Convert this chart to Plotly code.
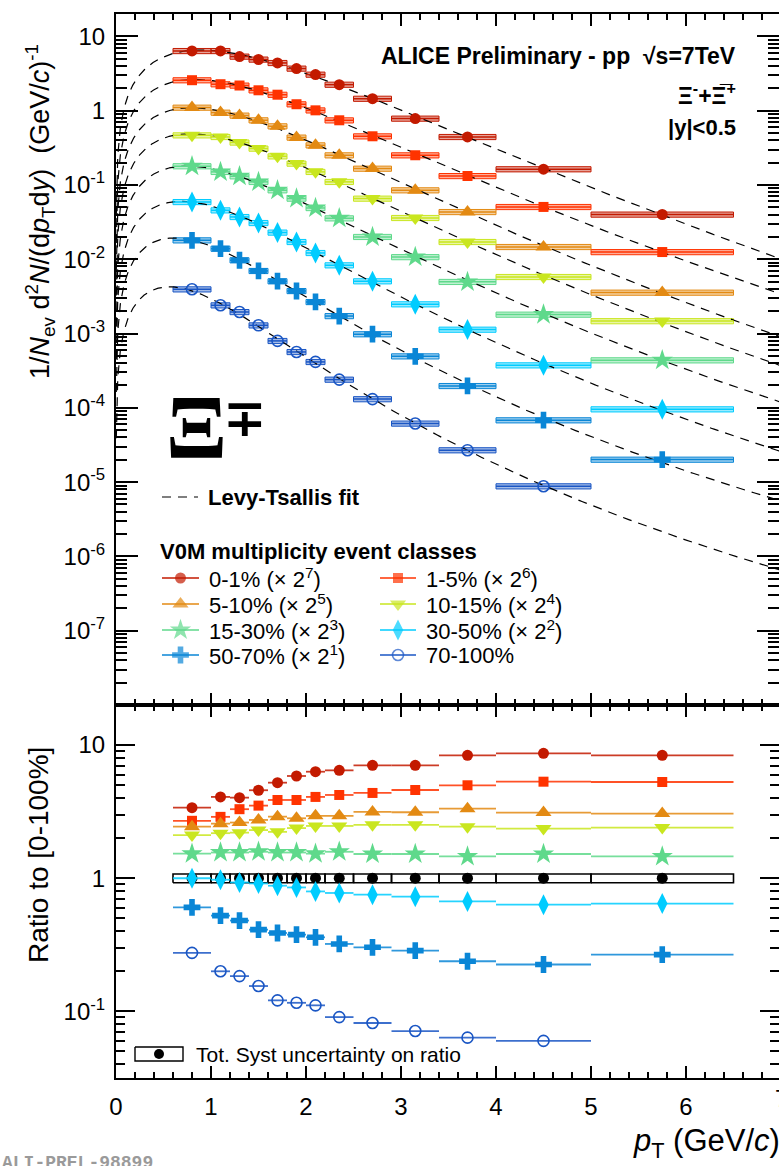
import numpy as np
import plotly.graph_objects as go

# ---------------- data ----------------
PT_LO = [0.6, 1.0, 1.2, 1.4, 1.6, 1.8, 2.0, 2.2, 2.5, 2.9, 3.4, 4.0, 5.0]
PT_HI = [1.0, 1.2, 1.4, 1.6, 1.8, 2.0, 2.2, 2.5, 2.9, 3.4, 4.0, 5.0, 6.5]

CLASSES = ["0-1%", "1-5%", "5-10%", "10-15%", "15-30%", "30-50%", "50-70%", "70-100%"]
SCALE_POW = [7, 6, 5, 4, 3, 2, 1, 0]

# 1/Nev d2N/(dpT dy), already multiplied by 2^k
SPEC_0_1 = [6.36, 6.36, 5.35, 4.88, 4.39, 3.69, 3.06, 2.24, 1.45, 0.783, 0.443, 0.163, 0.040]
SPEC_1_5 = [2.57, 2.27, 2.18, 1.88, 1.64, 1.22, 1.01, 0.742, 0.452, 0.251, 0.132, 0.0506, 0.0125]
SPEC_5_10 = [1.10, 0.942, 0.86, 0.743, 0.617, 0.435, 0.342, 0.251, 0.166, 0.0849, 0.0433, 0.01465, 0.00356]
SPEC_10_15 = [0.466, 0.443, 0.373, 0.309, 0.243, 0.194, 0.150, 0.110, 0.0656, 0.036, 0.0171, 0.00578, 0.00147]
SPEC_15_30 = [0.179, 0.150, 0.131, 0.110, 0.0849, 0.0656, 0.049, 0.0356, 0.0200, 0.0107, 0.00496, 0.0018, 0.000437]
SPEC_30_50 = [0.059, 0.0456, 0.0371, 0.0308, 0.0229, 0.0171, 0.01216, 0.0083, 0.00506, 0.00248, 0.00113, 0.000374, 0.0000957]
SPEC_50_70 = [0.018, 0.0139, 0.0097, 0.00697, 0.00506, 0.00374, 0.00266, 0.00172, 0.00098, 0.000494, 0.000197, 0.0000681, 0.0000201]
SPEC_70_100 = [0.00394, 0.0024, 0.00195, 0.00129, 0.000796, 0.000565, 0.000415, 0.00024, 0.000131, 0.0000615, 0.0000269, 0.0000088]

# ratio of each class to the 0-100% spectrum
RATIO_0_1 = [3.39, 4.08, 4.03, 4.58, 5.22, 5.86, 6.31, 6.46, 7.05, 7.05, 8.37, 8.67, 8.37]
RATIO_1_5 = [2.70, 2.89, 3.30, 3.51, 3.87, 3.87, 4.08, 4.22, 4.37, 4.60, 4.99, 5.31, 5.28]
RATIO_5_10 = [2.44, 2.57, 2.62, 2.74, 2.90, 2.82, 2.94, 2.94, 3.15, 3.13, 3.33, 3.11, 3.06]
RATIO_10_15 = [2.11, 2.18, 2.20, 2.30, 2.23, 2.38, 2.47, 2.47, 2.52, 2.52, 2.44, 2.36, 2.40]
RATIO_15_30 = [1.53, 1.56, 1.56, 1.58, 1.56, 1.56, 1.53, 1.58, 1.52, 1.52, 1.46, 1.52, 1.46]
RATIO_30_50 = [1.0, 0.975, 0.930, 0.914, 0.879, 0.853, 0.796, 0.775, 0.752, 0.727, 0.670, 0.633, 0.645]
RATIO_50_70 = [0.604, 0.524, 0.481, 0.411, 0.388, 0.377, 0.360, 0.321, 0.303, 0.286, 0.238, 0.225, 0.267]
RATIO_70_100 = [0.275, 0.200, 0.184, 0.155, 0.121, 0.116, 0.111, 0.0906, 0.0818, 0.0712, 0.0635, 0.060]
RATIO_MB = [1.0] * 13

SYST_SPEC = 0.08   # relative half-height of spectrum systematic boxes
SYST_MB = 0.075    # relative half-height of the ratio systematic box

SPECTRA = [SPEC_0_1, SPEC_1_5, SPEC_5_10, SPEC_10_15, SPEC_15_30, SPEC_30_50, SPEC_50_70, SPEC_70_100]
RATIOS = [RATIO_0_1, RATIO_1_5, RATIO_5_10, RATIO_10_15, RATIO_15_30, RATIO_30_50, RATIO_50_70, RATIO_70_100]

COLORS = ["#C31A00", "#FF3300", "#E38A13", "#C9E61F", "#5FD98B", "#00CCFF", "#0A86D6", "#1A56C4"]
SYMBOLS = ["circle", "square", "triangle-up", "triangle-down", "star", "diamond-tall", "cross", "circle-open"]
SIZES = [11, 10, 14, 14, 16, 15, 14, 11]

FONT = "Liberation Sans, Arial, Helvetica, sans-serif"

# ---------------- geometry ----------------
W, H = 779, 1166
ML, MR, MT, MB = 116, 0, 14, 88
PW, PH = W - ML - MR, H - MT - MB
SPLIT = 705
X_MAX = PW / 95.0


def xp(px):
    return (px - ML) / PW


def yp(py):
    return (H - MB - py) / PH


def rgba(hexcol, a):
    h = hexcol.lstrip("#")
    r, g, b = int(h[0:2], 16), int(h[2:4], 16), int(h[4:6], 16)
    return f"rgba({r},{g},{b},{a})"


# ---------------- Levy-Tsallis fit ----------------
M_XI = 1.32171


def levy_shape(pt, n, c):
    mt = np.sqrt(pt ** 2 + M_XI ** 2)
    return pt * (1.0 + (mt - M_XI) / (n * c)) ** (-n)


def fit_levy(pt, y):
    pt = np.asarray(pt, float)
    ly = np.log(np.asarray(y, float))
    n_grid = np.linspace(3.0, 80.0, 232)[:, None, None]
    c_grid = np.linspace(0.08, 1.2, 225)[None, :, None]
    d = ly - np.log(levy_shape(pt[None, None, :], n_grid, c_grid))
    a = d.mean(axis=2, keepdims=True)
    chi = ((d - a) ** 2).sum(axis=2)
    i, j = np.unravel_index(np.argmin(chi), chi.shape)
    return n_grid[i, 0, 0], c_grid[0, j, 0], np.exp(a[i, j, 0])


fig = go.Figure()

centers = [(lo + hi) / 2 for lo, hi in zip(PT_LO, PT_HI)]
halfw = [(hi - lo) / 2 for lo, hi in zip(PT_LO, PT_HI)]

# ---- top panel: systematic boxes ----
for vals, col in zip(SPECTRA, COLORS):
    xs, ys = [], []
    for lo, hi, v in zip(PT_LO, PT_HI, vals):
        xs += [lo, hi, hi, lo, lo, None]
        ys += [v * (1 - SYST_SPEC), v * (1 - SYST_SPEC), v * (1 + SYST_SPEC), v * (1 + SYST_SPEC), v * (1 - SYST_SPEC), None]
    fig.add_trace(go.Scatter(x=xs, y=ys, mode="lines", fill="toself", fillcolor=rgba(col, 0.4),
                             line=dict(color=col, width=1), xaxis="x", yaxis="y",
                             showlegend=False, hoverinfo="skip"))

# ---- top panel: fit curves ----
pt_curve = np.concatenate([np.linspace(0.003, 0.6, 200), np.linspace(0.6, 7.2, 300)])
for vals in SPECTRA:
    n, c, a = fit_levy(centers[:len(vals)], vals)
    fig.add_trace(go.Scatter(x=pt_curve, y=a * levy_shape(pt_curve, n, c), mode="lines",
                             line=dict(color="black", width=1.2, dash="9px,7px"),
                             xaxis="x", yaxis="y", showlegend=False, hoverinfo="skip"))

# ---- top panel: data points ----
for vals, col, sym, sz in zip(SPECTRA, COLORS, SYMBOLS, SIZES):
    k = len(vals)
    fig.add_trace(go.Scatter(
        x=centers[:k], y=vals, mode="markers", xaxis="x", yaxis="y",
        marker=dict(symbol=sym, size=sz, color=col, line=dict(width=1.6 if sym.endswith("open") else 0, color=col)),
        error_x=dict(type="data", array=halfw[:k], symmetric=True, width=0, thickness=1.5, color=col),
        showlegend=False, hoverinfo="skip"))

# ---- bottom panel: 0-100% systematic box and points ----
xs, ys = [], []
for lo, hi, v in zip(PT_LO, PT_HI, RATIO_MB):
    xs += [lo, hi, hi, lo, lo, None]
    ys += [v * (1 - SYST_MB), v * (1 - SYST_MB), v * (1 + SYST_MB), v * (1 + SYST_MB), v * (1 - SYST_MB), None]
fig.add_trace(go.Scatter(x=xs, y=ys, mode="lines", fill="toself", fillcolor="rgba(255,255,255,0)",
                         line=dict(color="black", width=1.6), xaxis="x2", yaxis="y2",
                         showlegend=False, hoverinfo="skip"))
fig.add_trace(go.Scatter(x=centers, y=RATIO_MB, mode="markers", xaxis="x2", yaxis="y2",
                         marker=dict(symbol="circle", size=11, color="black"),
                         showlegend=False, hoverinfo="skip"))

# ---- bottom panel: ratios ----
for vals, col, sym, sz in zip(RATIOS, COLORS, SYMBOLS, SIZES):
    k = len(vals)
    fig.add_trace(go.Scatter(
        x=centers[:k], y=vals, mode="markers", xaxis="x2", yaxis="y2",
        marker=dict(symbol=sym, size=sz, color=col, line=dict(width=1.6 if sym.endswith("open") else 0, color=col)),
        error_x=dict(type="data", array=halfw[:k], symmetric=True, width=0, thickness=1.8, color=rgba(col, 0.85)),
        showlegend=False, hoverinfo="skip"))

# ---- dummy traces so the right-hand tick axes render ----
fig.add_trace(go.Scatter(x=[None], y=[None], xaxis="x", yaxis="y3", showlegend=False, hoverinfo="skip"))
fig.add_trace(go.Scatter(x=[None], y=[None], xaxis="x2", yaxis="y4", showlegend=False, hoverinfo="skip"))

# ---- legend symbols (pixel overlay) ----
def pix_trace(x, y, **kw):
    fig.add_trace(go.Scatter(x=x, y=y, xaxis="x5", yaxis="y5", showlegend=False,
                             hoverinfo="skip", cliponaxis=False, **kw))

pix_trace([162, 198], [497, 497], mode="lines", line=dict(color="black", width=1.2, dash="9px,7px"))

LEG_ROWS = [578, 604, 630, 655]
LEG_COLS = [(162, 199, 207), (380, 416, 424)]
for i, (cls, p, col, sym, sz) in enumerate(zip(CLASSES, SCALE_POW, COLORS, SYMBOLS, SIZES)):
    r, cidx = divmod(i, 2)
    x0, x1, _ = LEG_COLS[cidx]
    y = LEG_ROWS[r]
    pix_trace([x0, (x0 + x1) / 2, x1], [y, y, y], mode="lines+markers",
              line=dict(color=col, width=1.6),
              marker=dict(symbol=sym, size=[0, sz, 0], color=col,
                          line=dict(width=1.6 if sym.endswith("open") else 0, color=col)))

pix_trace([135, 183, 183, 135, 135], [1047, 1047, 1061, 1061, 1047], mode="lines",
          line=dict(color="black", width=1.4))
pix_trace([159], [1054], mode="markers", marker=dict(symbol="circle", size=10, color="black"))

# ---------------- axes ----------------
top_dom = [yp(SPLIT), 1.0]
bot_dom = [0.0, yp(SPLIT)]

top_major = [10.0 ** k for k in range(-7, 2)]
top_text = [f"10<sup>{k}</sup>" for k in range(-7, 0)] + ["1", "10"]
top_minor = [m * 10.0 ** k for k in range(-8, 2) for m in range(2, 10) if m * 10.0 ** k < 20.1]
bot_major = [0.1, 1.0, 10.0]
bot_text = ["10<sup>-1</sup>", "1", "10"]
bot_minor = [m * 10.0 ** k for k in range(-2, 2) for m in range(2, 10) if 0.0316 < m * 10.0 ** k < 20.1]

TOP_RANGE = [-8.0, np.log10(20.0)]
BOT_RANGE = [np.log10(0.0316), np.log10(20.0)]

xcommon = dict(range=[0, X_MAX], showline=True, linewidth=2, linecolor="black", mirror="ticks",
               ticks="inside", ticklen=12, tickwidth=1.5, tickcolor="black", tick0=0, dtick=1,
               minor=dict(ticks="inside", ticklen=6, tickwidth=1.5, dtick=0.2, tick0=0, tickcolor="black"),
               showgrid=False, zeroline=False, tickfont=dict(family=FONT, size=24, color="black"))


def ylog(dom, rng, major, text, minor, major_len, minor_len, **kw):
    d = dict(domain=dom, type="log", range=rng, tickmode="array", tickvals=major, ticktext=text,
             ticks="inside", ticklen=major_len, tickwidth=1.5, tickcolor="black",
             minor=dict(tickmode="array", tickvals=minor, ticks="inside", ticklen=minor_len,
                        tickwidth=1.5, tickcolor="black"),
             showgrid=False, zeroline=False, tickfont=dict(family=FONT, size=24, color="black"))
    d.update(kw)
    return d


fig.update_layout(
    width=W, height=H,
    margin=dict(l=ML, r=MR, t=MT, b=MB, pad=0),
    paper_bgcolor="white", plot_bgcolor="rgba(0,0,0,0)",
    showlegend=False,
    font=dict(family=FONT, color="black"),
    xaxis=dict(domain=[0, 1], anchor="y", showticklabels=False, **xcommon),
    xaxis2=dict(domain=[0, 1], anchor="y2", matches="x", showticklabels=True, ticklabelstandoff=6, **xcommon),
    yaxis=ylog(top_dom, TOP_RANGE, top_major, top_text, top_minor, 22, 11, anchor="x",
               showline=True, linewidth=2, linecolor="black", ticklabelstandoff=4),
    yaxis2=ylog(bot_dom, BOT_RANGE, bot_major, bot_text, bot_minor, 19, 9, anchor="x2",
                showline=True, linewidth=2, linecolor="black", ticklabelstandoff=4),
    yaxis3=ylog(top_dom, TOP_RANGE, top_major, top_text, top_minor, 22, 11, anchor="x",
                overlaying="y", side="right", showticklabels=False, showline=False),
    yaxis4=ylog(bot_dom, BOT_RANGE, bot_major, bot_text, bot_minor, 19, 9, anchor="x2",
                overlaying="y2", side="right", showticklabels=False, showline=False),
    xaxis5=dict(domain=[0, 1], anchor="y5", range=[ML, W - MR], visible=False, fixedrange=True),
    yaxis5=dict(domain=[0, 1], anchor="x5", range=[H - MB, MT], visible=False, fixedrange=True),
)

# ---------------- text ----------------
NB = "\u00a0"


def ann(text, x, y, size, xanchor="left", yanchor="middle", family=FONT, angle=0, color="black"):
    fig.add_annotation(text=text, x=xp(x), y=yp(y), xref="paper", yref="paper",
                       xanchor=xanchor, yanchor=yanchor, showarrow=False, textangle=angle,
                       font=dict(family=family, size=size, color=color))


ann(f"<b>ALICE Preliminary - pp{NB}{NB}√s=7TeV</b>", 738, 56, 23, xanchor="right")
ann("<b>Ξ<sup>-</sup>+Ξ\u0305<sup>+</sup></b>", 738, 94, 23, xanchor="right")
ann("<b>|y|&lt;0.5</b>", 738, 128, 22, xanchor="right")

ann("<b>Ξ</b>", 196, 427, 90, xanchor="center", family="Liberation Serif, Times New Roman, serif")
ann("<b>∓</b>", 245, 418, 52, xanchor="center", family="Liberation Serif, DejaVu Serif, serif")

ann("<b>Levy-Tsallis fit</b>", 206, 497, 22)
ann("<b>V0M multiplicity event classes</b>", 158, 551, 22)
for i, (cls, p) in enumerate(zip(CLASSES, SCALE_POW)):
    r, cidx = divmod(i, 2)
    label = cls if p == 0 else f"{cls} (× 2<sup>{p}</sup>)"
    ann(label, LEG_COLS[cidx][2], LEG_ROWS[r], 22)

ann("Tot. Syst uncertainty on ratio", 194, 1054, 21)

ann("1/<i>N</i><sub>ev</sub> d<sup>2</sup><i>N</i>/(d<i>p</i><sub>T</sub>d<i>y</i>)" + NB * 2 + "(GeV/<i>c</i>)<sup>-1</sup>",
    40, 212, 27, xanchor="center", angle=-90)
ann("Ratio to [0-100%]", 38, 855, 28, xanchor="center", angle=-90)
ann("<i>p</i><sub>T</sub> (GeV/<i>c</i>)", 782, 1143, 31, xanchor="right")
ann("7", 781, 1098, 24, xanchor="center")
ann("<b>ALI-PREL-98899</b>", 0, 1163, 18, family="Liberation Mono, DejaVu Sans Mono, monospace", color="#9a9a9a")

fig.write_html("out.html")
